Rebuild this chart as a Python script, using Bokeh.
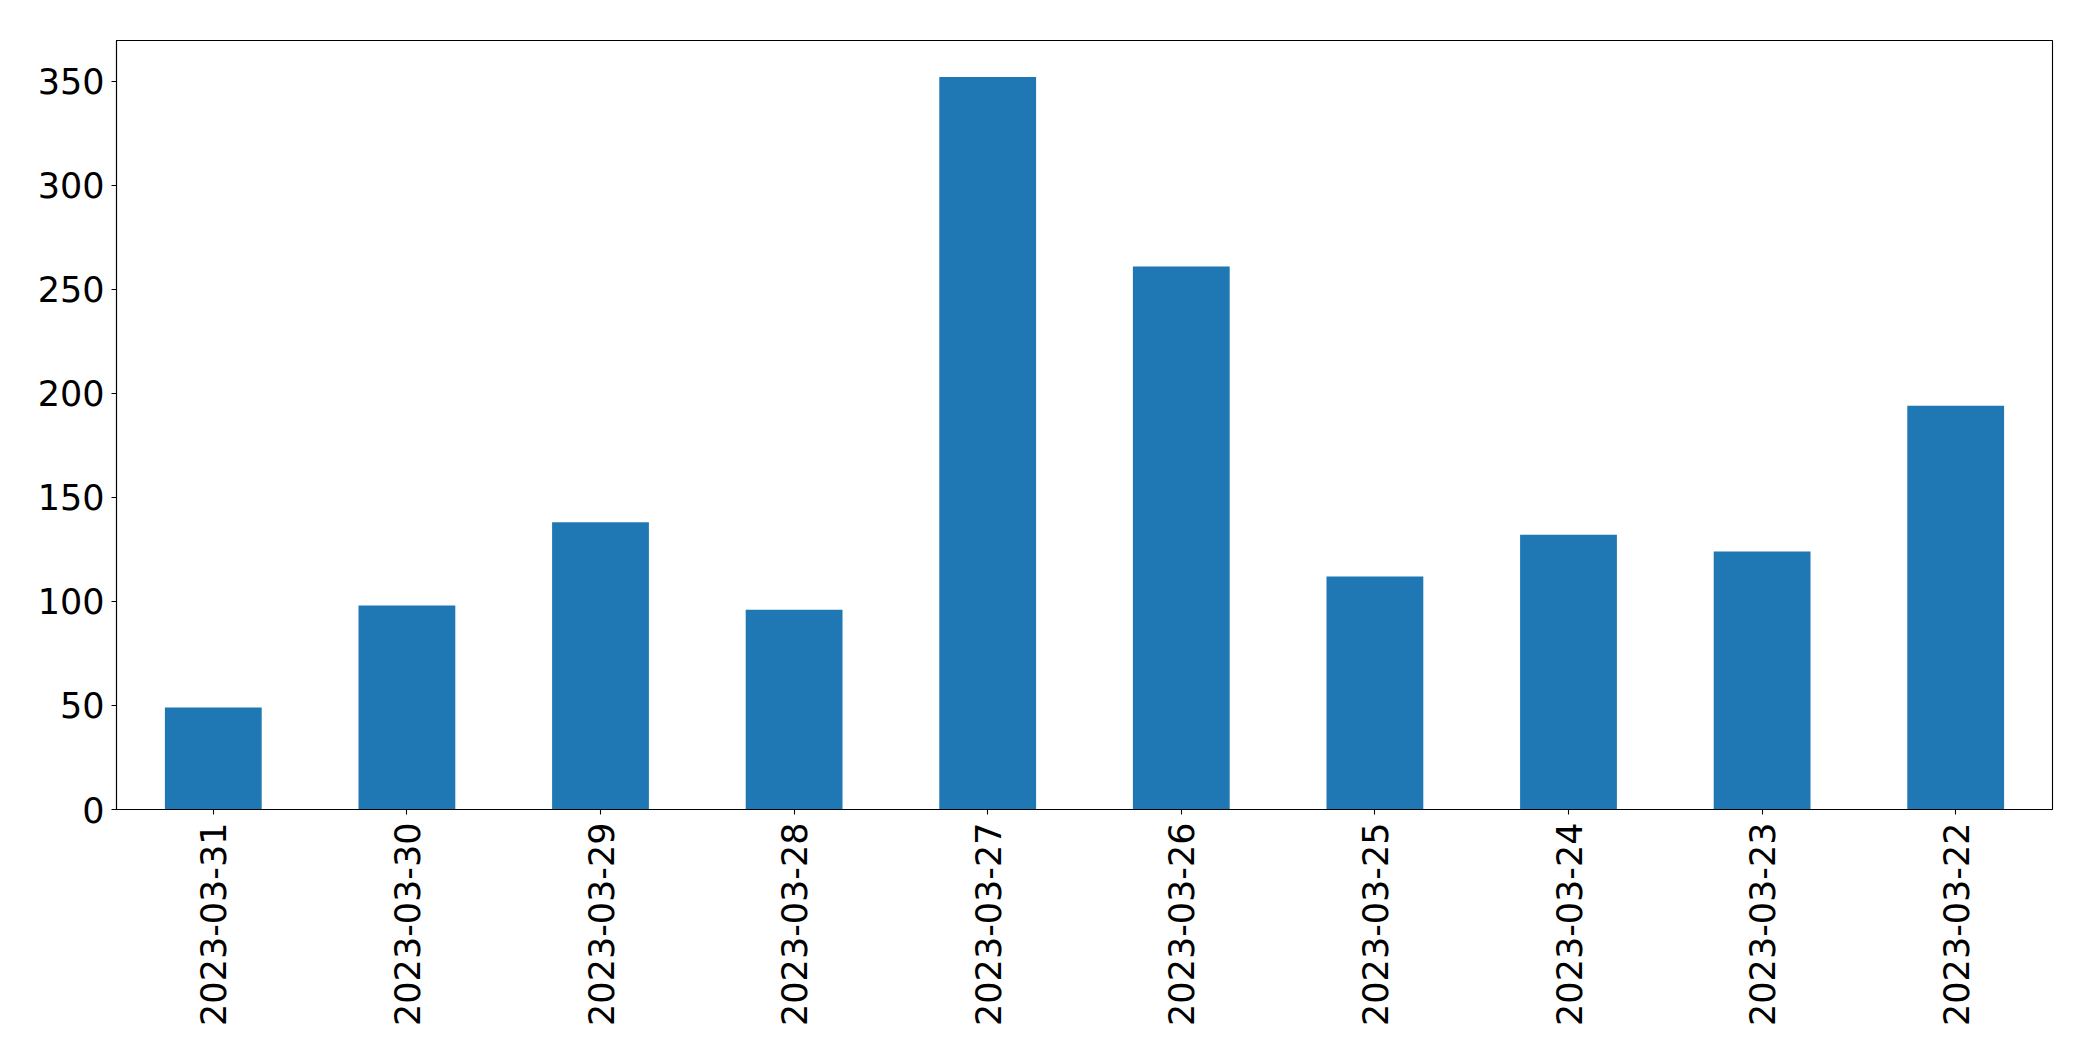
from bokeh.plotting import figure
from bokeh.models import FactorRange, Range1d, FixedTicker, ColumnDataSource
from bokeh.embed import file_html
from bokeh.resources import INLINE
import math

dates = ["2023-03-31", "2023-03-30", "2023-03-29", "2023-03-28", "2023-03-27",
         "2023-03-26", "2023-03-25", "2023-03-24", "2023-03-23", "2023-03-22"]
counts = [49, 98, 138, 96, 352, 261, 112, 132, 124, 194]
y_ticks = [0, 50, 100, 150, 200, 250, 300, 350]

src = ColumnDataSource(dict(x=dates, top=counts))

p = figure(width=2077, height=1045, output_backend="svg", toolbar_location=None,
           x_range=FactorRange(*dates, range_padding=0), y_range=Range1d(0, 369.6),
           min_border_left=116, min_border_right=25, min_border_top=40, min_border_bottom=236)

p.vbar(x="x", top="top", width=0.5, source=src, fill_color="#1f77b4", line_color=None)

p.grid.visible = False
p.outline_line_color = "black"
p.outline_line_width = 1.1
p.background_fill_color = "white"
p.border_fill_color = "white"

for ax in (p.xaxis[0], p.yaxis[0]):
    ax.major_label_text_font = "DejaVu Sans"
    ax.major_label_text_font_size = "35px"
    ax.major_label_text_color = "black"
    ax.axis_line_color = "black"
    ax.axis_line_width = 1.1
    ax.major_tick_line_color = "black"
    ax.major_tick_line_width = 1.1
    ax.major_tick_out = 5
    ax.major_tick_in = 0
    ax.minor_tick_line_color = None

p.yaxis[0].ticker = FixedTicker(ticks=y_ticks)
p.yaxis[0].major_label_standoff = 7
p.xaxis[0].major_label_orientation = math.pi / 2
p.xaxis[0].major_label_standoff = 8

open("out.html", "w").write(file_html(p, INLINE))
